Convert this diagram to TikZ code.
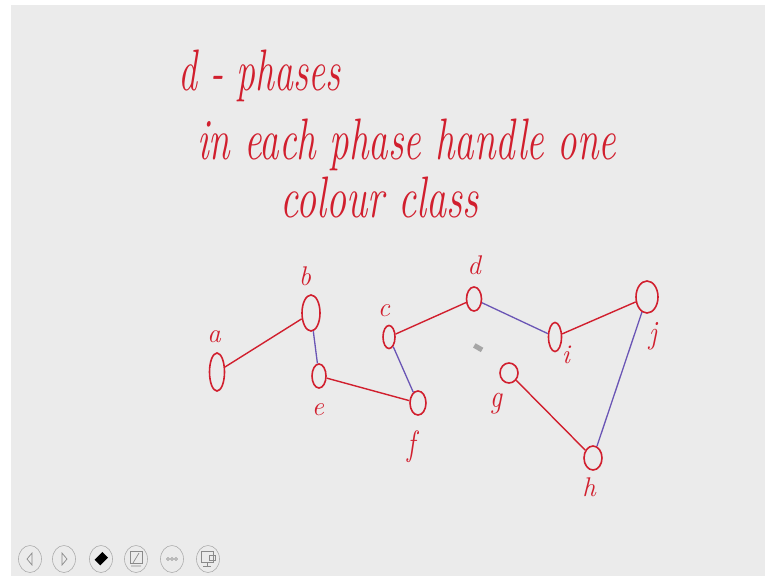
\documentclass[tikz,border=0pt]{standalone}
\usetikzlibrary{shapes.geometric}
\definecolor{ink}{HTML}{D11F2E}
\definecolor{vio}{HTML}{6A55B5}
\definecolor{slide}{HTML}{EBEBEB}
\definecolor{icon}{HTML}{8A8A8A}
\tikzset{
  vtx/.style={ellipse, draw=ink, line width=1.6pt, inner sep=0pt},
  lbl/.style={text=ink, font=\fontsize{27}{27}\selectfont\itshape, inner sep=0pt},
  hand/.style={text=ink, anchor=base west, inner sep=0pt, font=\fontsize{39}{39}\selectfont\itshape},
  redge/.style={draw=ink, line width=1.4pt},
  pedge/.style={draw=vio, line width=1.3pt},
  btn/.style={ellipse, draw=icon!70, line width=0.6pt, minimum width=23pt, minimum height=27pt, inner sep=0pt},
}
\begin{document}
\begin{tikzpicture}[x=1pt,y=-1pt]
\useasboundingbox (0,0) rectangle (767,578);
\fill[white] (0,0) rectangle (767,578);
\fill[slide] (11,5) rectangle (765,576);
% handwritten title text
\node[hand] (t1) at (178,90) {\scalebox{0.97}[1.5]{d - phases}};
\node[hand] (t2) at (197,159) {\scalebox{1.0}[1.5]{in each phase handle one}};
\node[hand] (t3) at (280,217) {\scalebox{1.03}[1.5]{colour class}};
% vertices
\node[vtx, minimum width=15pt, minimum height=38pt] (a) at (217,372) {};
\node[vtx, minimum width=18pt, minimum height=36pt] (b) at (311,313) {};
\node[vtx, minimum width=14pt, minimum height=24pt] (e) at (319,376) {};
\node[vtx, minimum width=12pt, minimum height=23pt] (c) at (389,337) {};
\node[vtx, minimum width=16pt, minimum height=24pt] (f) at (418,403) {};
\node[vtx, minimum width=15pt, minimum height=24pt] (d) at (474,299) {};
\node[vtx, minimum width=13pt, minimum height=29pt] (i) at (555,337) {};
\node[vtx, minimum width=22pt, minimum height=32pt] (j) at (647,297) {};
\node[vtx, minimum width=18pt, minimum height=20pt] (g) at (509,373) {};
\node[vtx, minimum width=18pt, minimum height=24pt] (h) at (593,458) {};
% labels
\node[lbl] (la) at (214,337) {a};
\node[lbl] (lb) at (305,276) {b};
\node[lbl] (lc) at (384,311) {c};
\node[lbl] (ld) at (474,265) {d};
\node[lbl] (le) at (318,410) {e};
\node[lbl] (lf) at (412,447) {\scalebox{1}[1.3]{f}};
\node[lbl] (lg) at (496,404) {\scalebox{1}[1.2]{g}};
\node[lbl] (lh) at (589,487) {h};
\node[lbl] (li) at (566,355) {i};
\node[lbl] (lj) at (653,336) {\scalebox{1}[1.2]{j}};
% edges
\draw[redge] (a) -- (b);
\draw[pedge] (b) -- (e);
\draw[redge] (e) -- (f);
\draw[pedge] (c) -- (f);
\draw[redge] (c) -- (d);
\draw[pedge] (d) -- (i);
\draw[redge] (i) -- (j);
\draw[pedge] (j) -- (h);
\draw[redge] (g) -- (h);
% cursor
\fill[gray!70, rotate around={-30:(478,347)}] (474,345) rectangle (483,350);
% toolbar
\node[btn] (k1) at (30,559) {};
\node[btn] (k2) at (64,559) {};
\node[btn] (k3) at (101,559) {};
\node[btn] (k4) at (136,559) {};
\node[btn] (k5) at (172,559) {};
\node[btn] (k6) at (208,559) {};
\draw[icon, line width=0.7pt] (32,553) -- (27,559) -- (32,565) -- cycle;
\draw[icon, line width=0.7pt] (62,553) -- (67,559) -- (62,565) -- cycle;
\fill[black, rotate around={45:(101,559)}] (96,555) rectangle (107,563);
\draw[icon, line width=0.7pt] (130,551) rectangle (142,563);
\draw[icon, line width=0.7pt] (131,566) -- (141,566) (133,563) -- (139,553);
\foreach \dx in {-4,0,4} \draw[icon, line width=0.5pt] (172+\dx,559) circle (1.5pt);
\draw[icon, line width=0.7pt] (201,551) rectangle (213,562);
\draw[icon, line width=0.7pt] (207,562) -- (207,566) (203,566) -- (211,566);
\draw[icon, line width=0.6pt] (209,555) rectangle (215,560);
\end{tikzpicture}
\end{document}
